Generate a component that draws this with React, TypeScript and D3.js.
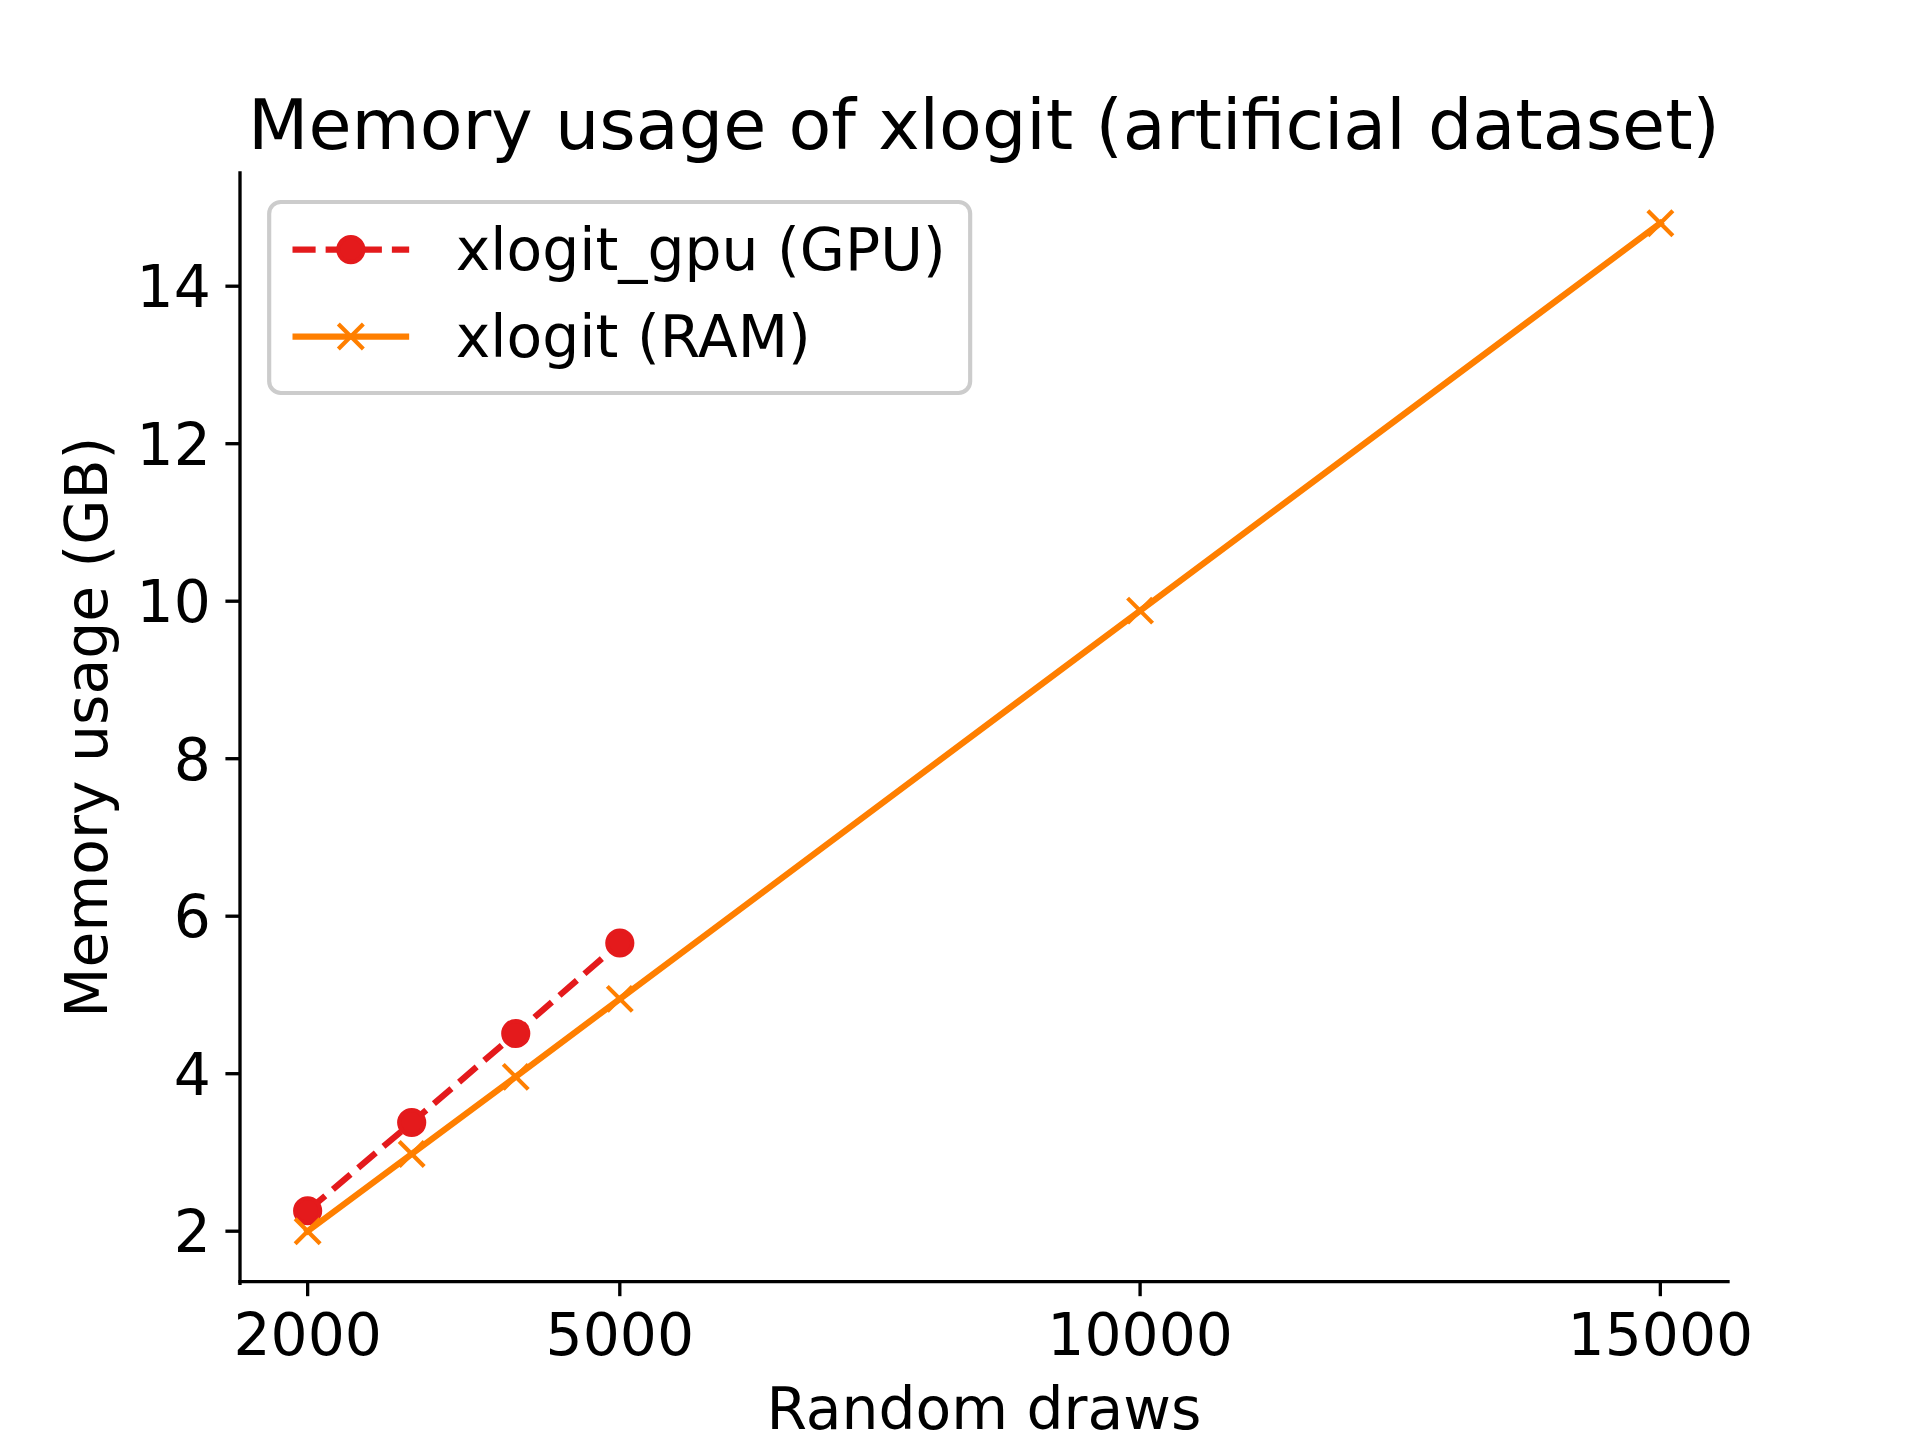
import React from "react";
import * as d3 from "d3";

const drawsGpu = [2000, 3000, 4000, 5000];
const memGpu = [2.26, 3.38, 4.51, 5.66];
const drawsRam = [2000, 3000, 4000, 5000, 10000, 15000];
const memRam = [2.0, 2.98, 3.96, 4.95, 9.88, 14.8];
const xTicks = [2000, 5000, 10000, 15000];
const yTicks = [2, 4, 6, 8, 10, 12, 14];
const seriesNames = ["xlogit_gpu (GPU)", "xlogit (RAM)"];
const title = "Memory usage of xlogit (artificial dataset)";
const xLabel = "Random draws";
const yLabel = "Memory usage (GB)";

const RED = "#e41a1c";
const ORANGE = "#ff7f00";
const W = 1920;
const H = 1440;
const L = 240, R = 1728, T = 172.8, B = 1281.6;
const PT = 300 / 72;
const FS = 14 * PT; // 58.33
const LW = 1.5 * PT;
const MS = 6 * PT;
const MEW = 1 * PT;
const FONT = "'DejaVu Sans', sans-serif";

function pad(ext: [number, number]): [number, number] {
  const r = ext[1] - ext[0];
  return [ext[0] - 0.05 * r, ext[1] + 0.05 * r];
}

export default function App() {
  const allX = [...drawsGpu, ...drawsRam];
  const allY = [...memGpu, ...memRam];
  const x = d3.scaleLinear().domain(pad(d3.extent(allX) as [number, number])).range([L, R]);
  const y = d3.scaleLinear().domain(pad(d3.extent(allY) as [number, number])).range([B, T]);

  const line = d3.line<[number, number]>().x((d) => x(d[0])).y((d) => y(d[1]));
  const gpuPts: [number, number][] = drawsGpu.map((d, i) => [d, memGpu[i]]);
  const ramPts: [number, number][] = drawsRam.map((d, i) => [d, memRam[i]]);

  const dash = `${3.7 * LW} ${1.6 * LW}`;
  const tickLen = 3.5 * PT;
  const tickW = 0.8 * PT;
  const tickPad = 3.5 * PT;
  const h = MS / 2;

  const cross = (cx: number, cy: number, key: string) => (
    <path
      key={key}
      d={`M${cx - h},${cy - h}L${cx + h},${cy + h}M${cx - h},${cy + h}L${cx + h},${cy - h}`}
      stroke={ORANGE}
      strokeWidth={MEW}
      fill="none"
    />
  );
  const dot = (cx: number, cy: number, key: string) => (
    <circle key={key} cx={cx} cy={cy} r={MS / 2} fill={RED} stroke={RED} strokeWidth={MEW} />
  );

  // legend geometry
  const lgX = L + 0.5 * FS;
  const lgY = T + 0.5 * FS;
  const lgW = 701;
  const lgH = 191;
  const hx0 = lgX + 0.4 * FS;
  const hx1 = hx0 + 2 * FS;
  const tx = hx1 + 0.8 * FS;
  const rowBase = [270, 357];

  return (
    <svg
      width={W}
      height={H}
      viewBox={`0 0 ${W} ${H}`}
      style={{ position: "absolute", left: 0, top: 0, background: "#fff" }}
      fontFamily={FONT}
    >
      <rect x={0} y={0} width={W} height={H} fill="#fff" />
      <defs>
        <clipPath id="ax">
          <rect x={L} y={T} width={R - L} height={B - T} />
        </clipPath>
      </defs>

      {/* data */}
      <g clipPath="url(#ax)">
        <path d={line(gpuPts) || ""} fill="none" stroke={RED} strokeWidth={LW} strokeDasharray={dash} strokeLinejoin="round" />
        {gpuPts.map((p, i) => dot(x(p[0]), y(p[1]), "g" + i))}
        <path d={line(ramPts) || ""} fill="none" stroke={ORANGE} strokeWidth={LW} strokeLinejoin="round" strokeLinecap="square" />
        {ramPts.map((p, i) => cross(x(p[0]), y(p[1]), "r" + i))}
      </g>

      {/* spines */}
      <line x1={L} y1={T} x2={L} y2={B + tickW / 2} stroke="#000" strokeWidth={tickW} strokeLinecap="square" />
      <line x1={L} y1={B} x2={R} y2={B} stroke="#000" strokeWidth={tickW} strokeLinecap="square" />

      {/* x ticks */}
      {xTicks.map((t) => (
        <g key={"xt" + t}>
          <line x1={x(t)} x2={x(t)} y1={B} y2={B + tickLen} stroke="#000" strokeWidth={tickW} />
          <text x={x(t)} y={B + tickLen + tickPad + 0.765 * FS} fontSize={FS} textAnchor="middle" fill="#000">
            {t}
          </text>
        </g>
      ))}
      {/* y ticks */}
      {yTicks.map((t) => (
        <g key={"yt" + t}>
          <line x1={L - tickLen} x2={L} y1={y(t)} y2={y(t)} stroke="#000" strokeWidth={tickW} />
          <text x={L - tickLen - tickPad} y={y(t) + 0.365 * FS} fontSize={FS} textAnchor="end" fill="#000">
            {t}
          </text>
        </g>
      ))}

      {/* labels */}
      <text x={(L + R) / 2} y={149} fontSize={1.2 * FS} textAnchor="middle" fill="#000">
        {title}
      </text>
      <text x={(L + R) / 2} y={1429} fontSize={FS} textAnchor="middle" fill="#000">
        {xLabel}
      </text>
      <text
        transform={`translate(107,${(T + B) / 2}) rotate(-90)`}
        fontSize={FS}
        textAnchor="middle"
        fill="#000"
      >
        {yLabel}
      </text>

      {/* legend */}
      <rect
        x={lgX}
        y={lgY}
        width={lgW}
        height={lgH}
        rx={0.2 * FS}
        ry={0.2 * FS}
        fill="#fff"
        fillOpacity={0.8}
        stroke="#cccccc"
        strokeWidth={1 * PT}
      />
      <line x1={hx0} x2={hx1} y1={rowBase[0] - 0.35 * FS} y2={rowBase[0] - 0.35 * FS} stroke={RED} strokeWidth={LW} strokeDasharray={dash} />
      {dot((hx0 + hx1) / 2, rowBase[0] - 0.35 * FS, "lg0")}
      <line x1={hx0} x2={hx1} y1={rowBase[1] - 0.35 * FS} y2={rowBase[1] - 0.35 * FS} stroke={ORANGE} strokeWidth={LW} />
      {cross((hx0 + hx1) / 2, rowBase[1] - 0.35 * FS, "lg1")}
      {seriesNames.map((n, i) => (
        <text key={n} x={tx} y={rowBase[i]} fontSize={FS} fill="#000">
          {n}
        </text>
      ))}
    </svg>
  );
}
